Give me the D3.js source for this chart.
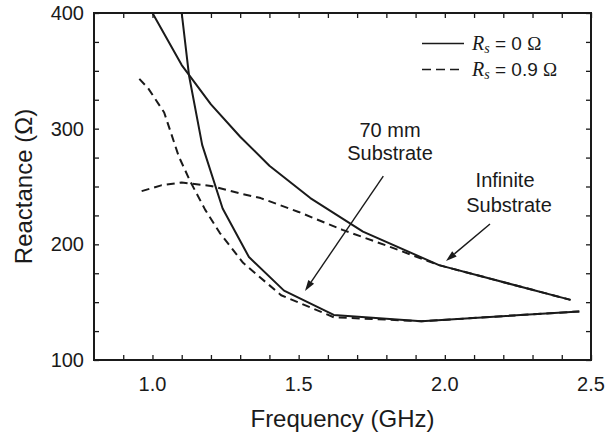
<!DOCTYPE html>
<html>
<head>
<meta charset="utf-8">
<script src="https://cdn.jsdelivr.net/npm/d3@7"></script>
<style>
  html, body { margin: 0; padding: 0; background: #fff; }
  svg { display: block; }
  text { font-family: "Liberation Sans", Arial, Helvetica, sans-serif; fill: #1a1a1a; }
</style>
</head>
<body>
<svg id="chart" width="606" height="436"></svg>
<script>
// ---- data ----
const xTickValues = [1.0, 1.5, 2.0, 2.5];
const xTickLabels = ["1.0", "1.5", "2.0", "2.5"];
const yTickValues = [100, 200, 300, 400];
const yTickLabels = ["100", "200", "300", "400"];

// Infinite substrate, Rs = 0
const infFreq0  = [1.00, 1.10, 1.20, 1.30, 1.40, 1.54, 1.72, 1.98, 2.43];
const infReact0 = [400,  355,  321,  293,  268,  240,  211,  182,  152];
// Infinite substrate, Rs = 0.9
const infFreq9  = [0.963, 1.03, 1.10, 1.20, 1.30, 1.37, 1.50, 1.65, 1.80, 1.98, 2.43];
const infReact9 = [246,   251,  253.5, 250.5, 244, 240,  228,  212.5, 199, 182,  152];
// 70 mm substrate, Rs = 0
const subFreq0  = [1.10, 1.125, 1.17, 1.24, 1.33, 1.45, 1.62, 1.92, 2.46];
const subReact0 = [400,  346,   286,  231,  189,  160,  139,  133.5, 142];
// 70 mm substrate, Rs = 0.9
const subFreq9  = [0.955, 0.985, 1.04, 1.09, 1.13, 1.18, 1.23, 1.31, 1.44, 1.62, 1.92, 2.46];
const subReact9 = [343,   335,   314,  276,  254,  230,  210,  184,  156,  137,  133.5, 142];

const legendLabels = [{r: "0"}, {r: "0.9"}];

// ---- layout ----
const svg = d3.select("#chart");
const L = 94, R = 591, T = 13, B = 360;
const x = d3.scaleLinear().domain([0.8, 2.5]).range([L, R]);
const y = d3.scaleLinear().domain([100, 400]).range([B, T]);
const ink = "#1a1a1a";

svg.append("defs").append("clipPath").attr("id", "clip")
  .append("rect").attr("x", L).attr("y", T).attr("width", R - L).attr("height", B - T);

// ticks (inward, all four sides)
const xMinor = d3.range(9, 26).map(d => d / 10);
const yMinor = d3.range(100, 401, 25);

const axB = svg.append("g").attr("transform", `translate(0,${B})`)
  .call(d3.axisTop(x).tickValues(xMinor).tickSize(5).tickFormat(""));
const axT = svg.append("g").attr("transform", `translate(0,${T})`)
  .call(d3.axisBottom(x).tickValues(xMinor).tickSize(5).tickFormat(""));
const axL = svg.append("g").attr("transform", `translate(${L},0)`)
  .call(d3.axisRight(y).tickValues(yMinor).tickSize(5).tickFormat(""));
const axR = svg.append("g").attr("transform", `translate(${R},0)`)
  .call(d3.axisLeft(y).tickValues(yMinor).tickSize(5).tickFormat(""));
[axB, axT, axL, axR].forEach(g => {
  g.select(".domain").remove();
  g.selectAll(".tick line").attr("stroke", ink).attr("stroke-width", 1.3);
});

// frame
svg.append("rect").attr("x", L).attr("y", T).attr("width", R - L).attr("height", B - T)
  .attr("fill", "none").attr("stroke", ink).attr("stroke-width", 2);

// tick labels
svg.append("g").selectAll("text").data(xTickValues).join("text")
  .attr("x", d => x(d)).attr("y", 391).attr("text-anchor", "middle")
  .attr("font-size", 20).text((d, i) => xTickLabels[i]);
svg.append("g").selectAll("text").data(yTickValues).join("text")
  .attr("x", 84).attr("y", d => y(d)).attr("dy", "0.35em").attr("text-anchor", "end")
  .attr("font-size", 20).text((d, i) => yTickLabels[i]);

// axis titles
svg.append("text").attr("x", (L + R) / 2).attr("y", 427).attr("text-anchor", "middle")
  .attr("font-size", 24).text("Frequency (GHz)");
svg.append("text").attr("transform", `translate(32,${(T + B) / 2}) rotate(-90)`)
  .attr("text-anchor", "middle").attr("font-size", 24).text("Reactance (Ω)");

// curves
const line = d3.line().x(d => x(d[0])).y(d => y(d[1]));
const plot = svg.append("g").attr("clip-path", "url(#clip)");
const series = [
  {f: infFreq0, r: infReact0, dash: null},
  {f: infFreq9, r: infReact9, dash: "8,5"},
  {f: subFreq0, r: subReact0, dash: null},
  {f: subFreq9, r: subReact9, dash: "8,5"}
];
series.forEach(s => {
  plot.append("path").datum(d3.zip(s.f, s.r)).attr("d", line)
    .attr("fill", "none").attr("stroke", ink).attr("stroke-width", 2)
    .attr("stroke-linejoin", "round")
    .attr("stroke-dasharray", s.dash);
});

// annotations
const arrows = [
  {from: [1.7896, 259], to: [1.5217, 159.7]},
  {from: [2.1545, 217.6], to: [2.004, 185.6]}
];
arrows.forEach(a => {
  const x1 = x(a.from[0]), y1 = y(a.from[1]), x2 = x(a.to[0]), y2 = y(a.to[1]);
  const ang = Math.atan2(y2 - y1, x2 - x1);
  const len = 11, w = 3.5;
  const bx = x2 - len * Math.cos(ang), by = y2 - len * Math.sin(ang);
  svg.append("line").attr("x1", x1).attr("y1", y1).attr("x2", bx).attr("y2", by)
    .attr("stroke", ink).attr("stroke-width", 1.4);
  const px = -Math.sin(ang) * w, py = Math.cos(ang) * w;
  svg.append("path")
    .attr("d", `M${x2},${y2}L${bx + px},${by + py}L${bx - px},${by - py}Z`)
    .attr("fill", ink);
});
const notes = [
  {t: "70 mm", f: 1.8125, r: 293},
  {t: "Substrate", f: 1.8125, r: 272.5},
  {t: "Infinite", f: 2.206, r: 250},
  {t: "Substrate", f: 2.2195, r: 228.2}
];
svg.append("g").selectAll("text").data(notes).join("text")
  .attr("x", d => x(d.f)).attr("y", d => y(d.r)).attr("text-anchor", "middle")
  .attr("font-size", 20).text(d => d.t);

// legend
const leg = svg.append("g");
[[43.5, null], [69.5, "9,5"]].forEach((row, i) => {
  leg.append("line").attr("x1", 422).attr("x2", 464).attr("y1", row[0]).attr("y2", row[0])
    .attr("stroke", ink).attr("stroke-width", 1.6).attr("stroke-dasharray", row[1]);
  const t = leg.append("text").attr("x", 472).attr("y", row[0] + 6).attr("font-size", 19);
  t.append("tspan").attr("font-family", "Liberation Serif, Times New Roman, serif")
    .attr("font-style", "italic").attr("font-size", 20).text("R");
  t.append("tspan").attr("font-family", "Liberation Serif, Times New Roman, serif")
    .attr("font-style", "italic").attr("font-size", 14).attr("dy", 3).text("s");
  t.append("tspan").attr("dy", -3).text(" = " + legendLabels[i].r + " ");
  t.append("tspan").attr("font-family", "Liberation Serif, Times New Roman, serif").text("Ω");
});
</script>
</body>
</html>
